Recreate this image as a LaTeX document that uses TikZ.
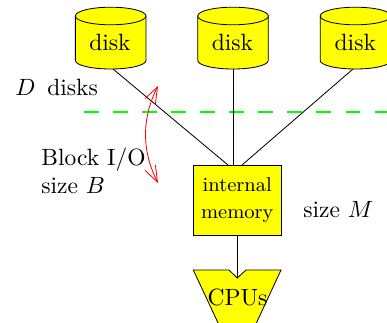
\documentclass[tikz,border=0pt]{standalone}
\usepackage{amsmath,amssymb}
\usepackage{xcolor}
\usetikzlibrary{arrows.meta,positioning}
\definecolor{chipyellow}{RGB}{255,255,0}
\tikzset{
  drumtext/.style={anchor=base,inner sep=0pt},
  membox/.style={draw,fill=chipyellow,line width=.35pt,minimum width=37.3pt,minimum height=29.75pt,inner sep=0pt,align=center,font=\fontsize{8.5}{11.8}\selectfont},
  tagtext/.style={anchor=base west,inner sep=0pt},
  redarrow/.style={red,line width=.35pt,{Straight Barb[length=6.8pt,width=5pt]}-{Straight Barb[length=6.8pt,width=5pt]}}
}
\begin{document}
\begin{tikzpicture}[x=.425pt,y=-.425pt,line width=.35pt]
\clip (0,0) rectangle (387,322);
\draw[green,line width=.55pt,dash pattern=on 6.25pt off 6.1pt] (84,112) -- (400,112);
% the three drums
\foreach \cx/\fx/\tx/\n in {110.7/113/110/1,233/233/232.5/2,355.5/353/355.3/3}{
  \filldraw[fill=chipyellow] (\cx-35.3,16) -- (\cx-35.3,60.5) arc[start angle=180,end angle=0,x radius=35.3,y radius=8.5] -- (\cx+35.3,16) -- cycle;
  \filldraw[fill=chipyellow] (\cx,16) ellipse[x radius=35.3,y radius=8.8];
  \node[drumtext] (disk\n) at (\tx,50.7) {disk};
  \coordinate (foot\n) at (\fx,69);
}
\node[membox] (memory) at (237.3,200) {internal\\memory};
\coordinate (top1) at (228,165);
\coordinate (top2) at (233,165);
\coordinate (top3) at (242,165);
\draw (foot1) -- (top1);
\draw (foot2) -- (top2);
\draw (foot3) -- (top3);
% CPU funnel
\filldraw[fill=chipyellow] (193.3,270) -- (229,270) -- (237.3,278) -- (246,270) -- (281,270) -- (255,326) -- (219.5,326) -- cycle;
\coordinate (notch) at (237.3,278);
\draw (memory.south -| notch) -- (notch);
\node (cpus) at (237.5,297) {CPUs};
\node[tagtext] (dlabel) at (15,95) {$D$\,\ disks};
\node[tagtext] (blocklabel) at (41,165) {Block I/O};
\node[tagtext] (sizeb) at (41,193) {size $B$};
\node[tagtext] (sizem) at (303,217) {size $M$};
\coordinate (arrowtop) at (158,86);
\coordinate (arrowbot) at (158,183);
\draw[redarrow] (arrowtop) .. controls (141.6,118) and (141.6,151) .. (arrowbot);
\end{tikzpicture}
\end{document}
